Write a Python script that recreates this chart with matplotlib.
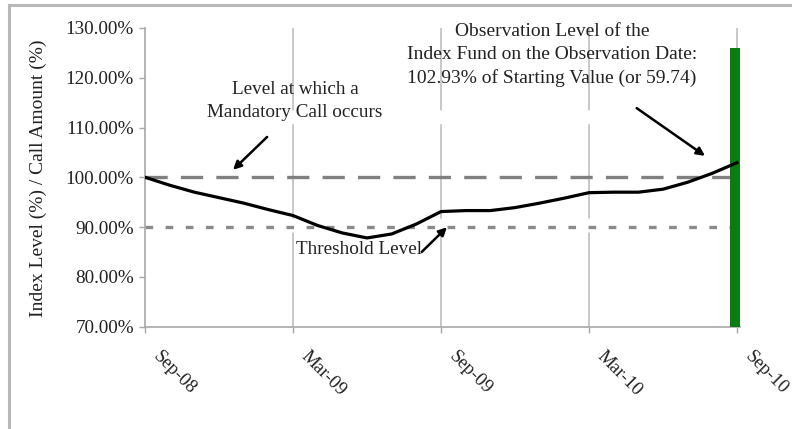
import matplotlib
matplotlib.use("Agg")
import matplotlib.pyplot as plt
from matplotlib.lines import Line2D
from matplotlib.transforms import ScaledTranslation

# --- data ---
month_labels = ['Sep-08', 'Oct-08', 'Nov-08', 'Dec-08', 'Jan-09', 'Feb-09',
                'Mar-09', 'Apr-09', 'May-09', 'Jun-09', 'Jul-09', 'Aug-09',
                'Sep-09', 'Oct-09', 'Nov-09', 'Dec-09', 'Jan-10', 'Feb-10',
                'Mar-10', 'Apr-10', 'May-10', 'Jun-10', 'Jul-10', 'Aug-10',
                'Sep-10']
index_level = [100.0, 98.4, 97.0, 95.9, 94.8, 93.5, 92.3, 90.3, 88.8, 87.8,
               88.6, 90.6, 93.1, 93.3, 93.3, 93.9, 94.8, 95.8, 96.9, 97.0,
               97.0, 97.6, 99.0, 100.8, 102.93]
call_level = [100.0] * len(month_labels)
threshold_level = [90.0] * len(month_labels)
observation_bar = 126.0          # green bar on the observation date
y_ticks = [70, 80, 90, 100, 110, 120, 130]

plt.rcParams['font.family'] = ['Liberation Serif', 'DejaVu Serif']
plt.rcParams['lines.scale_dashes'] = False

fig = plt.figure(figsize=(7.92, 4.29), dpi=100)
ax = fig.add_axes([145/792, 1-326.5/429, 595/792, (326.5-28)/429])

x = list(range(len(month_labels)))
tick_idx = x[::6]

# vertical grid lines (long dashes)
for t in tick_idx[1:]:
    ax.axvline(t, color='#c4c4c4', lw=1.3, dashes=(68, 10), zorder=0)

# observation bar
ax.bar(x[-1] - 0.08, observation_bar - 70, bottom=70, width=0.42,
       color='#0a7d10', zorder=3)

# reference levels
ax.plot(x, call_level, color='#808080', lw=2.4, dashes=(16, 9.5), zorder=2)
ax.plot(x, threshold_level, color='#8a8a8a', lw=2.4, dashes=(5.5, 9), zorder=2)

# index path
ax.plot(x, index_level, color='black', lw=2.3, zorder=4)

ax.set_xlim(0, 24.12)
ax.set_ylim(70, 130)
ax.set_yticks(y_ticks)
ax.set_yticklabels([f"{v:.2f}%" for v in y_ticks])
ax.set_xticks(tick_idx)
ax.set_xticklabels([month_labels[i] for i in tick_idx])

for s in ['top', 'right']:
    ax.spines[s].set_visible(False)
for s in ['left', 'bottom']:
    ax.spines[s].set_color('#a8a8a8')
    ax.spines[s].set_linewidth(1.2)

ax.tick_params(axis='y', length=4, width=1, color='#a8a8a8', pad=4,
               labelsize=13.8, labelcolor='#222222')
ax.tick_params(axis='x', length=4, width=1, color='#a8a8a8', pad=16,
               labelsize=13.5, labelcolor='#222222')
offset = ScaledTranslation(0.11, 0, fig.dpi_scale_trans)
for lab in ax.get_xticklabels():
    lab.set_rotation(-45)
    lab.set_ha('left')
    lab.set_va('center')
    lab.set_rotation_mode('anchor')
    lab.set_transform(lab.get_transform() + offset)

fig.text(38.5/792, 1-178.5/429, "Index Level (%) / Call Amount (%)",
         rotation=90, ha='center', va='center', fontsize=14, color='#222222')

# annotations
arrow = dict(arrowstyle='-|>', color='black', lw=1.8, mutation_scale=12,
             shrinkA=0, shrinkB=0)
ax.text(6.08, 115.3, "Level at which a\nMandatory Call occurs", ha='center',
        va='center', fontsize=13.8, linespacing=1.45, color='#222222')
ax.annotate("", xy=(3.57, 101.5), xytext=(4.95, 108.1), arrowprops=arrow)

ax.text(8.67, 85.5, "Threshold Level", ha='center', va='center',
        fontsize=13.8, color='#222222')
ax.annotate("", xy=(12.24, 89.95), xytext=(11.22, 85.0), arrowprops=arrow)

ax.text(16.49, 124.6, "Observation Level of the\nIndex Fund on the Observation Date:\n"
        "102.93% of Starting Value (or 59.74)", ha='center', va='center',
        fontsize=14, linespacing=1.45, color='#222222')
ax.annotate("", xy=(22.7, 104.3), xytext=(19.93, 113.9), arrowprops=arrow)

# outer frame (left and top edges only are visible)
fig.add_artist(Line2D([8.5/792, 8.5/792], [0, 1-4.5/429], transform=fig.transFigure,
                      color='#b8b8b8', lw=2.2))
fig.add_artist(Line2D([8.5/792, 1], [1-4.5/429, 1-4.5/429], transform=fig.transFigure,
                      color='#b8b8b8', lw=2.2))

fig.savefig("out.png", dpi=100)
